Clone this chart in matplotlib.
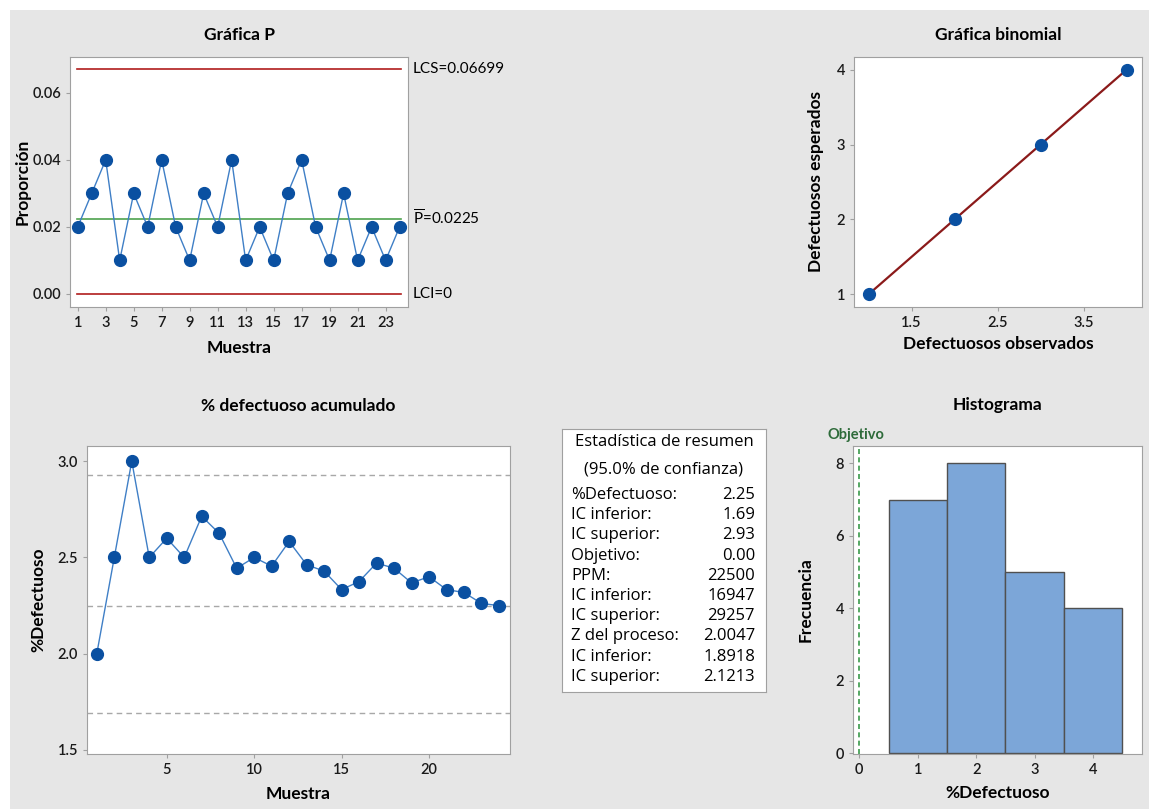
import matplotlib
matplotlib.use("Agg")
import matplotlib.pyplot as plt
from matplotlib.patches import Rectangle

plt.rcParams['font.family'] = ['Lato', 'DejaVu Sans']
plt.rcParams['mathtext.fontset'] = 'custom'
plt.rcParams['mathtext.rm'] = 'Lato'

W, H = 1149, 809

# data
muestra = list(range(1, 25))
proporcion = [0.02, 0.03, 0.04, 0.01, 0.03, 0.02, 0.04, 0.02, 0.01, 0.03, 0.02, 0.04,
              0.01, 0.02, 0.01, 0.03, 0.04, 0.02, 0.01, 0.03, 0.01, 0.02, 0.01, 0.02]
lcs, p_bar, lci = 0.06699, 0.0225, 0.0

observados = [1, 2, 3, 4]
esperados = [1, 2, 3, 4]

pct_acum = [2.0, 2.5, 3.0, 2.5, 2.6, 2.5, 2.714, 2.625, 2.444, 2.5, 2.455, 2.583,
            2.462, 2.429, 2.333, 2.375, 2.471, 2.444, 2.368, 2.4, 2.333, 2.318, 2.261, 2.25]
ic_lineas = [2.93, 2.25, 1.69]

hist_x = [1, 2, 3, 4]
hist_frec = [7, 8, 5, 4]
objetivo = 0.0

resumen = [("%Defectuoso:", "2.25"), ("IC inferior:", "1.69"), ("IC superior:", "2.93"),
           ("Objetivo:", "0.00"), ("PPM:", "22500"), ("IC inferior:", "16947"),
           ("IC superior:", "29257"), ("Z del proceso:", "2.0047"), ("IC inferior:", "1.8918"),
           ("IC superior:", "2.1213")]

c_mark = "#0a50a1"
c_line = "#3f7fc6"
c_red = "#b01c1c"
c_green = "#4ea24e"
c_spine = "#a0a0a0"
bg = "#e6e6e6"

TS = 12.5    # titles / axis labels
KS = 10.5    # tick labels


def pos(l, t, r, b):
    return [l / W, 1 - b / H, (r - l) / W, (b - t) / H]


def style(ax):
    for s in ax.spines.values():
        s.set_color(c_spine)
    ax.tick_params(colors="#1a1a1a", labelsize=KS, length=3, width=0.8)
    ax.tick_params(axis='both', color=c_spine)
    for lab in ax.get_xticklabels() + ax.get_yticklabels():
        lab.set_fontweight("semibold")


fig = plt.figure(figsize=(W / 100, H / 100), dpi=100, facecolor="white")
fig.patches.append(Rectangle((10 / W, 0), 1, 1 - 10 / H, transform=fig.transFigure,
                             facecolor=bg, edgecolor="none", zorder=-10))

# Gráfica P
ax1 = fig.add_axes(pos(70, 57, 408, 307))
ax1.plot(muestra, proporcion, color=c_line, lw=1, marker="o", ms=8.5,
         mfc=c_mark, mec=c_mark, zorder=3)
ax1.axhline(lcs, color=c_red, lw=1.2, xmin=0.02, xmax=0.98)
ax1.axhline(lci, color=c_red, lw=1.2, xmin=0.02, xmax=0.98)
ax1.axhline(p_bar, color=c_green, lw=1.2, xmin=0.02, xmax=0.98)
ax1.set_xlim(0.45, 24.6)
ax1.set_ylim(-0.0039, 0.0707)
ax1.set_xticks(range(1, 24, 2))
ax1.set_yticks([0.0, 0.02, 0.04, 0.06])
ax1.set_yticklabels(["0.00", "0.02", "0.04", "0.06"])
style(ax1)
ax1.set_title("Gráfica P", fontsize=TS, fontweight="bold", pad=12)
ax1.set_xlabel("Muestra", fontsize=TS, fontweight="bold", labelpad=7)
ax1.set_ylabel("Proporción", fontsize=TS, fontweight="bold", labelpad=1)
ax1.text(1.015, lcs, "LCS=0.06699", transform=ax1.get_yaxis_transform(),
         va="center", ha="left", fontsize=11)
ax1.text(1.015, p_bar, r"$\overline{\mathrm{P}}$=0.0225", transform=ax1.get_yaxis_transform(),
         va="center", ha="left", fontsize=11)
ax1.text(1.015, lci, "LCI=0", transform=ax1.get_yaxis_transform(),
         va="center", ha="left", fontsize=11)

# Gráfica binomial
ax2 = fig.add_axes(pos(854, 57, 1142, 307))
ax2.plot(observados, esperados, color="#8b1a1a", lw=1.6, zorder=2)
ax2.plot(observados, esperados, "o", ms=8.5, mfc=c_mark, mec=c_mark, zorder=3)
ax2.set_xlim(0.83, 4.18)
ax2.set_ylim(0.83, 4.17)
ax2.set_xticks([1.5, 2.5, 3.5])
ax2.set_yticks([1, 2, 3, 4])
style(ax2)
ax2.set_title("Gráfica binomial", fontsize=TS, fontweight="bold", pad=12)
ax2.set_xlabel("Defectuosos observados", fontsize=TS, fontweight="bold", labelpad=4.5)
ax2.set_ylabel("Defectuosos esperados", fontsize=TS, fontweight="bold", labelpad=9)

# % defectuoso acumulado
ax3 = fig.add_axes(pos(87, 446, 510, 754))
for v in ic_lineas:
    ax3.axhline(v, color="#a8a8a8", lw=1, ls=(0, (4, 3)))
ax3.plot(muestra, pct_acum, color=c_line, lw=1, marker="o", ms=8.5,
         mfc=c_mark, mec=c_mark, zorder=3)
ax3.set_xlim(0.44, 24.63)
ax3.set_ylim(1.479, 3.079)
ax3.set_xticks([5, 10, 15, 20])
ax3.set_yticks([1.5, 2.0, 2.5, 3.0])
style(ax3)
ax3.set_title("% defectuoso acumulado", fontsize=TS, fontweight="bold", pad=25)
ax3.set_xlabel("Muestra", fontsize=TS, fontweight="bold", labelpad=6.5)
ax3.set_ylabel("%Defectuoso", fontsize=TS, fontweight="bold", labelpad=8)

# Estadística de resumen
axt = fig.add_axes(pos(562, 429, 766, 692))
axt.set_xticks([])
axt.set_yticks([])
for s in axt.spines.values():
    s.set_color(c_spine)
axt.set_xlim(0, 204)
axt.set_ylim(263, 0)
tf = ['Open Sans', 'DejaVu Sans']
axt.text(102, 13, "Estadística de resumen", ha="center", va="center", fontsize=12, family=tf)
axt.text(102, 40, "(95.0% de confianza)", ha="center", va="center", fontsize=12, family=tf)
for i, (k, v) in enumerate(resumen):
    y = 66 + i * 20.2
    axt.text(9, y, k, ha="left", va="center", fontsize=12, family=tf)
    axt.text(193, y, v, ha="right", va="center", fontsize=12, family=tf)

# Histograma
ax4 = fig.add_axes(pos(853, 446, 1142, 754))
ax4.bar(hist_x, hist_frec, width=1, color="#7ca6d8", edgecolor="#505050", lw=1)
ax4.axvline(objetivo, color="#3a9a4a", lw=1.2, ls=(0, (3, 2)))
ax4.set_xlim(-0.108, 4.84)
ax4.set_ylim(-0.02, 8.48)
ax4.set_xticks([0, 1, 2, 3, 4])
ax4.set_yticks([0, 2, 4, 6, 8])
style(ax4)
ax4.set_title("Histograma", fontsize=TS, fontweight="bold", pad=26)
ax4.set_xlabel("%Defectuoso", fontsize=TS, fontweight="bold", labelpad=6)
ax4.set_ylabel("Frecuencia", fontsize=TS, fontweight="bold", labelpad=16)
ax4.text(objetivo - 0.55, 1.012, "Objetivo", transform=ax4.get_xaxis_transform(),
         color="#2e6b3a", fontsize=10.5, fontweight="bold", ha="left", va="bottom")

fig.savefig("out.png", dpi=100, facecolor=fig.get_facecolor())
